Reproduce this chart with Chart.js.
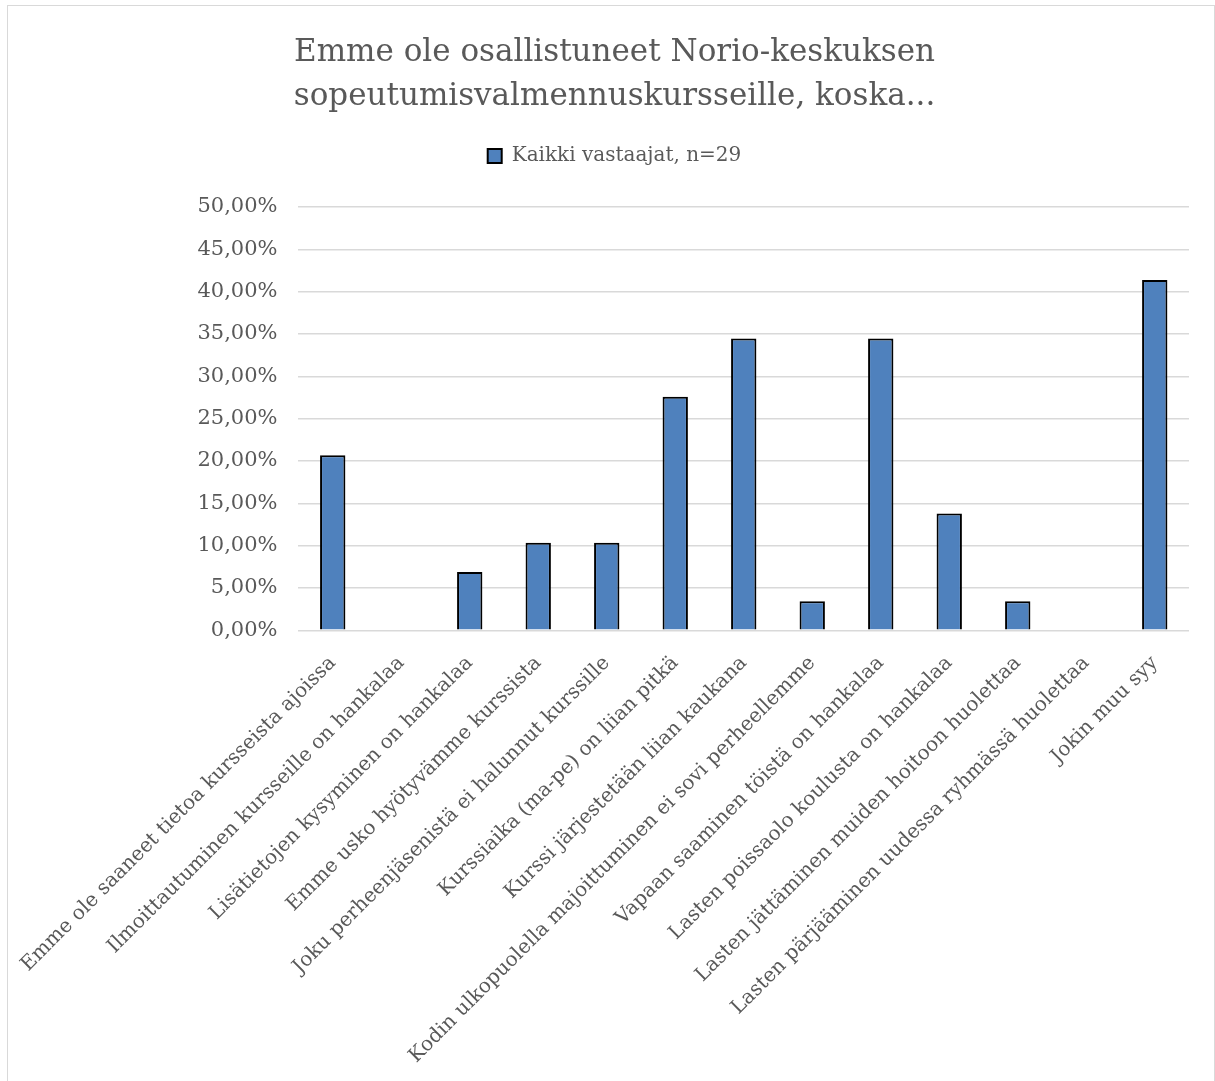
<!DOCTYPE html>
<html lang="fi">
<head>
  <meta charset="UTF-8">
  <title>Emme ole osallistuneet Norio-keskuksen sopeutumisvalmennuskursseille</title>
  <script src="https://cdn.jsdelivr.net/npm/chart.js"></script>
  <style>
    body { margin: 0; background: #fff; }
    .frame { position: absolute; left: 7px; top: 5px; width: 1206px; height: 1090px; border: 1px solid #d9d9d9; }
    .wrap { position: absolute; left: 0; top: 0; width: 1215px; height: 1081px; }
  </style>
</head>
<body>
  <div class="frame"></div>
  <div class="wrap"><canvas id="chart" width="1215" height="1081"></canvas></div>

  <script>
    const categories = [
      "Emme ole saaneet tietoa kursseista ajoissa",
      "Ilmoittautuminen kursseille on hankalaa",
      "Lisätietojen kysyminen on hankalaa",
      "Emme usko hyötyvämme kurssista",
      "Joku perheenjäsenistä ei halunnut kurssille",
      "Kurssiaika (ma-pe) on liian pitkä",
      "Kurssi järjestetään liian kaukana",
      "Kodin ulkopuolella majoittuminen ei sovi perheellemme",
      "Vapaan saaminen töistä on hankalaa",
      "Lasten poissaolo koulusta on hankalaa",
      "Lasten jättäminen muiden hoitoon huolettaa",
      "Lasten pärjääminen uudessa ryhmässä huolettaa",
      "Jokin muu syy"
    ];
    const seriesName = "Kaikki vastaajat, n=29";
    const values = [20.69, 0, 6.90, 10.34, 10.34, 27.59, 34.48, 3.45, 34.48, 13.79, 3.45, 0, 41.38];
    const titleLines = ["Emme ole osallistuneet Norio-keskuksen", "sopeutumisvalmennuskursseille, koska..."];

    const font = "'DejaVu Serif', serif";
    const grey = "#595959";

    // lisätilaa selitteen alle
    const legendGap = {
      id: "legendGap",
      beforeInit(chart) {
        const fit = chart.legend.fit;
        chart.legend.fit = function() {
          fit.bind(chart.legend)();
          this.height += 31;
        };
      }
    };

    new Chart(document.getElementById("chart"), {
      type: "bar",
      data: {
        labels: categories,
        datasets: [{
          label: seriesName,
          data: values,
          backgroundColor: "#4f81bd",
          borderColor: "#000000",
          borderWidth: 2,
          barPercentage: 0.37,
          categoryPercentage: 1
        }]
      },
      options: {
        responsive: false,
        animation: false,
        layout: { padding: { left: 40, right: 26, top: 31, bottom: 0 } },
        plugins: {
          title: {
            display: true,
            text: titleLines,
            color: grey,
            font: { family: font, size: 31, weight: "normal", lineHeight: 1.42 },
            padding: { top: 0, bottom: 17 }
          },
          legend: {
            labels: {
              color: grey,
              font: { family: font, size: 20 },
              boxWidth: 14,
              boxHeight: 14,
              padding: 10
            }
          },
          tooltip: { enabled: false }
        },
        scales: {
          x: {
            grid: { display: false },
            border: { display: false },
            ticks: {
              color: grey,
              padding: 13,
              font: { family: font, size: 20 },
              minRotation: 45,
              maxRotation: 45,
              autoSkip: false
            }
          },
          y: {
            min: 0,
            max: 50,
            afterFit: s => { s.width = 258; },
            grid: { color: "#d9d9d9", lineWidth: 1.5, drawTicks: false },
            border: { display: false },
            ticks: {
              stepSize: 5,
              color: grey,
              padding: 21,
              font: { family: font, size: 21 },
              callback: v => v.toFixed(2).replace(".", ",") + "%"
            }
          }
        }
      },
      plugins: [legendGap]
    });
  </script>
</body>
</html>
